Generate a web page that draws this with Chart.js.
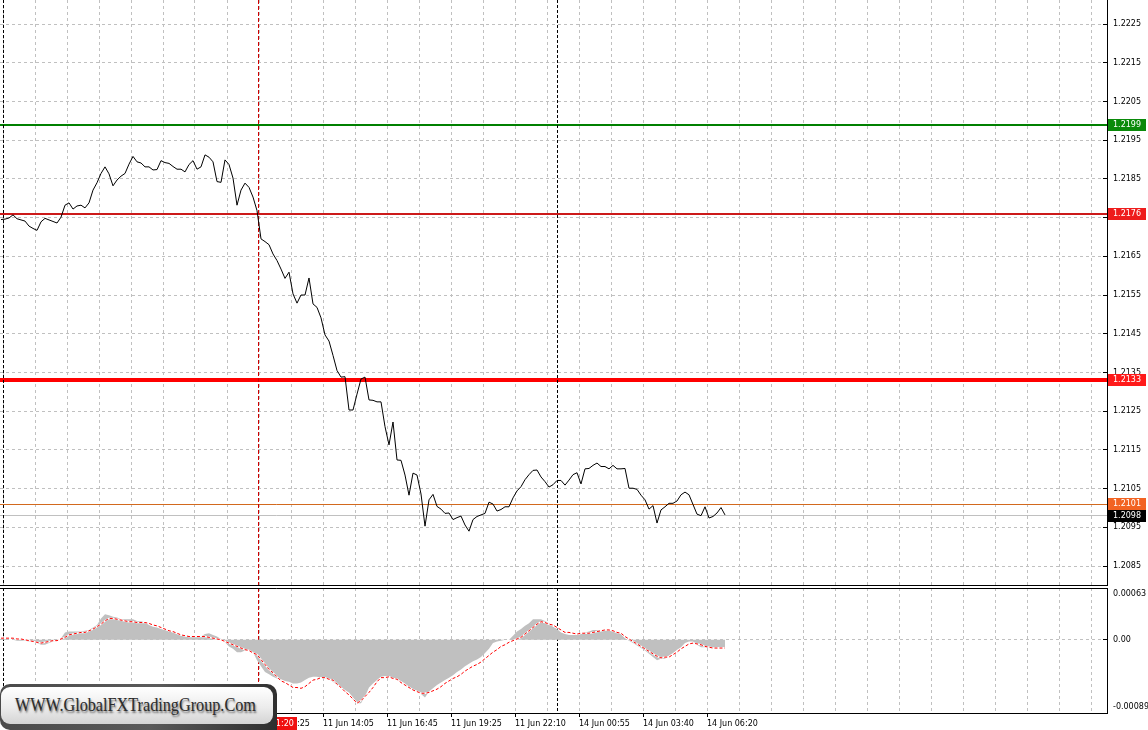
<!DOCTYPE html>
<html>
<head>
<meta charset="utf-8">
<script src="https://cdn.jsdelivr.net/npm/chart.js@4.4.0/dist/chart.umd.min.js"></script>
<style>
  html, body { margin: 0; padding: 0; background: #fff; }
  body { width: 1148px; height: 730px; position: relative; overflow: hidden; }
  canvas { position: absolute; left: 0; }
  #priceChart { top: 0; }
  #macdChart { top: 587px; }
  #wmBack {
    position: absolute; left: 0; top: 684px; width: 277px; height: 46px;
    border-radius: 10px 10px 0 10px;
    background: linear-gradient(100deg, #4a4a4a 0%, #5a5a5a 55%, #2e2e2e 100%);
  }
  #wm {
    position: absolute; left: 1px; top: 687px; width: 272px; height: 37px;
    box-sizing: border-box; padding-left: 14px;
    border-radius: 9px;
    background: linear-gradient(#ffffff, #ececec 55%, #d4d4d4);
    line-height: 37px; white-space: nowrap; overflow: hidden;
  }
  #wm span {
    display: inline-block; transform: scaleX(0.9); transform-origin: 0 50%;
    font: 18px "Liberation Serif", serif;
    color: #2b2b2b; text-shadow: 1px 2px 2px rgba(0, 0, 0, 0.55);
  }
</style>
</head>
<body>
<canvas id="priceChart" width="1148" height="587"></canvas>
<canvas id="macdChart" width="1148" height="143"></canvas>
<div id="wmBack"></div>
<div id="wm"><span>WWW.GlobalFXTradingGroup.Com</span></div>
<script>
// EURUSD M5, close price read every second bar (10 min per value)
const closePrice = [
    1.21745, 1.21746, 1.21749, 1.21757, 1.21747, 1.21744, 1.21741, 1.21728, 1.21722, 1.21717,
    1.21739, 1.21748, 1.21744, 1.21740, 1.21736, 1.21751, 1.21782, 1.21788, 1.21772, 1.21780,
    1.21782, 1.21775, 1.21788, 1.21821, 1.21840, 1.21864, 1.21881, 1.21863, 1.21832, 1.21847,
    1.21857, 1.21864, 1.21888, 1.21908, 1.21894, 1.21891, 1.21881, 1.21881, 1.21873, 1.21874,
    1.21897, 1.21892, 1.21890, 1.21882, 1.21875, 1.21875, 1.21868, 1.21887, 1.21897, 1.21875,
    1.21881, 1.21912, 1.21906, 1.21894, 1.21843, 1.21841, 1.21899, 1.21887, 1.21852, 1.21782,
    1.21821, 1.21839, 1.21828, 1.21803, 1.21768, 1.21695, 1.21688, 1.21680, 1.21656, 1.21639,
    1.21617, 1.21593, 1.21609, 1.21553, 1.21529, 1.21550, 1.21550, 1.21594, 1.21527, 1.21518,
    1.21491, 1.21447, 1.21431, 1.21394, 1.21355, 1.21338, 1.21339, 1.21253, 1.21253, 1.21294,
    1.21333, 1.21338, 1.21279, 1.21278, 1.21274, 1.21274, 1.21210, 1.21163, 1.21222, 1.21124,
    1.21123, 1.21085, 1.21033, 1.21090, 1.21085, 1.21036, 1.20953, 1.21021, 1.21035, 1.21004,
    1.20997, 1.20986, 1.20987, 1.20970, 1.20975, 1.20979, 1.20956, 1.20940, 1.20970, 1.20978,
    1.20982, 1.20986, 1.21015, 1.21010, 1.20992, 1.20996, 1.21003, 1.21003, 1.21026, 1.21044,
    1.21055, 1.21073, 1.21086, 1.21097, 1.21098, 1.21080, 1.21068, 1.21054, 1.21060, 1.21071,
    1.21071, 1.21059, 1.21072, 1.21086, 1.21091, 1.21062, 1.21101, 1.21102, 1.21110, 1.21116,
    1.21107, 1.21107, 1.21101, 1.21110, 1.21101, 1.21101, 1.21102, 1.21051, 1.21051, 1.21048,
    1.21033, 1.21021, 1.20997, 1.21006, 1.20961, 1.20995, 1.21003, 1.21012, 1.21012, 1.21018,
    1.21034, 1.21041, 1.21034, 1.21009, 1.20984, 1.20980, 1.21003, 1.20974, 1.20978, 1.20987,
    1.21001, 1.20982
];

// MACD histogram and signal, same slots as closePrice
const macdHist = [
    0.00001, 0.00001, 0, 0, -0.00001, -0.00001, -0.00001, -0.00002, -0.00002, -0.00004,
    -0.00006, -0.00006, -0.00004, -0.00002, -0.00001, 0.00002, 0.00009, 0.00010, 0.00010, 0.00010,
    0.00010, 0.00011, 0.00012, 0.00015, 0.00018, 0.00026, 0.00031, 0.00030, 0.00028, 0.00027,
    0.00025, 0.00025, 0.00025, 0.00025, 0.00023, 0.00023, 0.00021, 0.00018, 0.00016, 0.00015,
    0.00013, 0.00012, 0.00010, 0.00009, 0.00007, 0.00005, 0.00004, 0.00004, 0.00004, 0.00004,
    0.00004, 0.00007, 0.00008, 0.00006, 0.00004, 0.00001, -0.00003, -0.00008, -0.00011, -0.00015,
    -0.00015, -0.00013, -0.00013, -0.00015, -0.00025, -0.00032, -0.00039, -0.00042, -0.00045, -0.00047,
    -0.00048, -0.00050, -0.00051, -0.00053, -0.00053, -0.00052, -0.00049, -0.00046, -0.00045, -0.00045,
    -0.00046, -0.00047, -0.00048, -0.00051, -0.00055, -0.00058, -0.00061, -0.00064, -0.00070, -0.00077,
    -0.00077, -0.00069, -0.00058, -0.00053, -0.00049, -0.00045, -0.00044, -0.00045, -0.00047, -0.00048,
    -0.00050, -0.00053, -0.00057, -0.00060, -0.00062, -0.00066, -0.00070, -0.00063, -0.00059, -0.00055,
    -0.00052, -0.00049, -0.00046, -0.00043, -0.00039, -0.00036, -0.00032, -0.00029, -0.00026, -0.00024,
    -0.00021, -0.00016, -0.00011, -0.00004, -0.00002, -0.00001, 0, 0, 0.00005, 0.00010,
    0.00013, 0.00017, 0.00020, 0.00025, 0.00025, 0.00025, 0.00023, 0.00020, 0.00016, 0.00013,
    0.00009, 0.00007, 0.00006, 0.00006, 0.00006, 0.00007, 0.00009, 0.00010, 0.00012, 0.00012,
    0.00012, 0.00012, 0.00012, 0.00010, 0.00009, 0.00007, 0.00002, -0.00001, -0.00004, -0.00007,
    -0.00010, -0.00013, -0.00017, -0.00021, -0.00025, -0.00023, -0.00023, -0.00019, -0.00016, -0.00012,
    -0.00009, -0.00004, -0.00002, -0.00002, -0.00006, -0.00009, -0.00009, -0.00010, -0.00010, -0.00009,
    -0.00009, -0.00009
];

const macdSignal = [
    0.00002, 0.00002, 0.00002, 0.00002, 0.00001, 0.00001, 0, -0.00001, -0.00002, -0.00003,
    -0.00004, -0.00003, -0.00002, -0.00001, -0.00001, 0.00001, 0.00003, 0.00006, 0.00007, 0.00008,
    0.00009, 0.00009, 0.00011, 0.00013, 0.00016, 0.00019, 0.00023, 0.00026, 0.00026, 0.00025,
    0.00024, 0.00023, 0.00022, 0.00022, 0.00021, 0.00021, 0.00021, 0.00020, 0.00018, 0.00017,
    0.00015, 0.00013, 0.00011, 0.00010, 0.00008, 0.00006, 0.00005, 0.00004, 0.00004, 0.00004,
    0.00004, 0.00004, 0.00003, 0.00002, 0.00001, 0, -0.00002, -0.00004, -0.00006, -0.00008,
    -0.00010, -0.00012, -0.00013, -0.00016, -0.00018, -0.00024, -0.00030, -0.00036, -0.00040, -0.00045,
    -0.00050, -0.00052, -0.00055, -0.00058, -0.00058, -0.00059, -0.00057, -0.00053, -0.00049, -0.00048,
    -0.00046, -0.00046, -0.00048, -0.00049, -0.00054, -0.00058, -0.00063, -0.00067, -0.00072, -0.00077,
    -0.00074, -0.00069, -0.00064, -0.00058, -0.00051, -0.00046, -0.00046, -0.00045, -0.00047, -0.00048,
    -0.00052, -0.00055, -0.00058, -0.00061, -0.00063, -0.00065, -0.00065, -0.00064, -0.00062, -0.00060,
    -0.00057, -0.00053, -0.00050, -0.00047, -0.00045, -0.00042, -0.00038, -0.00035, -0.00032, -0.00030,
    -0.00027, -0.00023, -0.00019, -0.00015, -0.00012, -0.00008, -0.00006, -0.00003, -0.00001, 0.00001,
    0.00003, 0.00007, 0.00011, 0.00015, 0.00019, 0.00022, 0.00021, 0.00019, 0.00018, 0.00015,
    0.00012, 0.00009, 0.00009, 0.00008, 0.00007, 0.00008, 0.00008, 0.00008, 0.00009, 0.00010,
    0.00011, 0.00012, 0.00012, 0.00011, 0.00009, 0.00008, 0.00004, 0.00001, -0.00002, -0.00005,
    -0.00008, -0.00011, -0.00014, -0.00017, -0.00020, -0.00022, -0.00021, -0.00021, -0.00018, -0.00015,
    -0.00011, -0.00008, -0.00005, -0.00004, -0.00005, -0.00006, -0.00008, -0.00009, -0.00010, -0.00010,
    -0.00010, -0.00010
];

const priceTicks = [1.2085, 1.2095, 1.2105, 1.2115, 1.2125, 1.2135, 1.2145, 1.2155,
                    1.2165, 1.2175, 1.2185, 1.2195, 1.2205, 1.2215, 1.2225];
const macdTicks = [-0.00089, 0, 0.00063];
const timeLabels = ['11 Jun 00:45', '11 Jun 03:25', '11 Jun 06:05', '11 Jun 08:45',
                    '11 Jun 11:25', '11 Jun 14:05', '11 Jun 16:45', '11 Jun 19:25',
                    '11 Jun 22:10', '14 Jun 00:55', '14 Jun 03:40', '14 Jun 06:20'];

// horizontal levels and current bid
const levelPrices = [1.2199, 1.2176, 1.2133, 1.2101];
const bidPrice = 1.2098;

// day separators and the 11:20 marker, in slot units
const separatorSlots = [0.5, 139];
const markerSlot = 64.25;
const markerLabel = '11 Jun 11:20';

// ---- layout / style ----
const X_MIN = -0.25, X_MAX = 276.5;
const PRICE_MIN = 1.20801, PRICE_MAX = 1.22312;
const MACD_MIN = macdTicks[0], MACD_MAX = macdTicks[2];
const AXIS_W = 41;
const GRID = '#c0c0c0';
const GRID_DASH = [3, 3];
const FONT = '8px "DejaVu Sans"';

const levelStyle = [
    { line: '#008000', box: '#0a8a0a', width: 2 },
    { line: '#cc1a1a', box: '#ee1c1c', width: 2 },
    { line: '#ff0000', box: '#ff1a1a', width: 4 },
    { line: '#d2691e', box: '#f26322', width: 1 }
];

Chart.defaults.font.family = '"DejaVu Sans"';
Chart.defaults.font.size = 8;
Chart.defaults.color = '#000';

let gridSlots = [];
for (let v = 0.5; v < X_MAX; v += 8) gridSlots.push(v);

const isLabelSlot = i => i % 2 === 0 && i / 2 < timeLabels.length;
const toPoints = arr => arr.map((v, i) => ({ x: i, y: v }));
const macdText = v => (v === 0 ? '0.00' : v.toFixed(5));

function align(v, w) {
    return Math.round(v - w / 2) + w / 2;
}

function hLine(ctx, area, y, color, width, dash) {
    ctx.save();
    ctx.strokeStyle = color;
    ctx.lineWidth = width;
    ctx.setLineDash(dash || []);
    ctx.beginPath();
    ctx.moveTo(area.left, y);
    ctx.lineTo(area.right, y);
    ctx.stroke();
    ctx.restore();
}

function vLine(ctx, area, x, color, dash) {
    ctx.save();
    ctx.strokeStyle = color;
    ctx.lineWidth = 1;
    ctx.setLineDash(dash || []);
    ctx.beginPath();
    ctx.moveTo(x, area.top);
    ctx.lineTo(x, area.bottom);
    ctx.stroke();
    ctx.restore();
}

function markers(chart) {
    const { ctx, chartArea, scales: { x } } = chart;
    separatorSlots.forEach(s => vLine(ctx, chartArea, align(x.getPixelForValue(s), 1), '#000', [3, 2]));
    vLine(ctx, chartArea, align(x.getPixelForValue(markerSlot), 1), '#d00000', [4, 2]);
}

function axisMarks(ctx, area, scale, values) {
    ctx.save();
    ctx.strokeStyle = '#000';
    ctx.lineWidth = 1;
    values.forEach(v => {
        const y = align(scale.getPixelForValue(v), 1);
        ctx.beginPath();
        ctx.moveTo(area.right - 4, y);
        ctx.lineTo(area.right, y);
        ctx.stroke();
    });
    ctx.restore();
}

function priceBox(ctx, area, y, text, color) {
    ctx.save();
    ctx.fillStyle = color;
    ctx.fillRect(area.right + 1, Math.round(y) - 6, 38, 12);
    ctx.fillStyle = '#fff';
    ctx.font = FONT;
    ctx.textBaseline = 'middle';
    ctx.textAlign = 'left';
    ctx.fillText(text, area.right + 6, Math.round(y));
    ctx.restore();
}

const fixAxis = (s, w, h) => {
    if (w !== null) s.width = w;
    if (h !== null) s.height = h;
    s.paddingLeft = 0; s.paddingRight = 0; s.paddingTop = 0; s.paddingBottom = 0;
};

const pricePlugin = {
    id: 'pricePlugin',
    beforeDatasetsDraw(chart) {
        const { ctx, chartArea, scales: { y } } = chart;
        hLine(ctx, chartArea, align(y.getPixelForValue(bidPrice), 1), GRID, 1);
        levelPrices.forEach((p, i) => {
            const st = levelStyle[i];
            hLine(ctx, chartArea, align(y.getPixelForValue(p), st.width), st.line, st.width);
        });
        markers(chart);
    },
    afterDraw(chart) {
        const { ctx, chartArea, scales: { y } } = chart;
        axisMarks(ctx, chartArea, y, priceTicks);
        levelPrices.forEach((p, i) => priceBox(ctx, chartArea, y.getPixelForValue(p), p.toFixed(4), levelStyle[i].box));
        priceBox(ctx, chartArea, y.getPixelForValue(bidPrice), bidPrice.toFixed(4), '#000');
    }
};

const macdPlugin = {
    id: 'macdPlugin',
    beforeDatasetsDraw(chart) {
        markers(chart);
    },
    afterDraw(chart) {
        const { ctx, chartArea, scales: { x, y } } = chart;
        // top border of the indicator window
        ctx.save();
        ctx.strokeStyle = '#000';
        ctx.lineWidth = 1;
        ctx.beginPath();
        ctx.moveTo(0, chartArea.top + 0.5);
        ctx.lineTo(chartArea.right, chartArea.top + 0.5);
        ctx.stroke();
        ctx.restore();
        axisMarks(ctx, chartArea, y, [0]);

        // window max / min printed inside the scale strip
        ctx.save();
        ctx.font = FONT;
        ctx.fillStyle = '#000';
        ctx.textAlign = 'left';
        ctx.textBaseline = 'top';
        ctx.fillText(macdText(macdTicks[2]), chartArea.right + 6, y.getPixelForValue(macdTicks[2]) + 2);
        ctx.textBaseline = 'bottom';
        ctx.fillText(macdText(macdTicks[0]), chartArea.right + 6, y.getPixelForValue(macdTicks[0]) - 2);
        ctx.restore();

        // label of the vertical marker on the time axis
        ctx.save();
        ctx.font = FONT;
        const w = Math.ceil(ctx.measureText(markerLabel).width) + 6;
        const right = Math.round(x.getPixelForValue(markerSlot)) + 39;
        ctx.fillStyle = '#f01010';
        ctx.fillRect(right - w, chartArea.bottom + 4, w, 13);
        ctx.fillStyle = '#fff';
        ctx.textBaseline = 'middle';
        ctx.fillText(markerLabel, right - w + 3, chartArea.bottom + 10.5);
        ctx.restore();
    }
};

const xGrid = {
    type: 'linear',
    min: X_MIN,
    max: X_MAX,
    offset: false,
    afterBuildTicks: s => { s.ticks = gridSlots.map(v => ({ value: v })); }
};

new Chart(document.getElementById('priceChart'), {
    type: 'line',
    data: {
        datasets: [{
            data: toPoints(closePrice),
            borderColor: '#000',
            borderWidth: 1,
            pointRadius: 0,
            tension: 0
        }]
    },
    options: {
        responsive: false,
        animation: false,
        events: [],
        devicePixelRatio: 1,
        layout: { autoPadding: false, padding: { left: 0, top: 0, right: 0, bottom: 2 } },
        plugins: { legend: { display: false }, tooltip: { enabled: false } },
        scales: {
            x: Object.assign({}, xGrid, {
                ticks: { display: false },
                grid: { color: GRID, drawTicks: false, offset: false },
                border: { display: true, color: '#000', dash: GRID_DASH },
                afterFit: s => fixAxis(s, null, 0)
            }),
            y: {
                position: 'right',
                min: PRICE_MIN,
                max: PRICE_MAX,
                afterBuildTicks: s => { s.ticks = priceTicks.map(v => ({ value: v })); },
                ticks: { padding: 6, callback: v => v.toFixed(4) },
                grid: { color: GRID, drawTicks: false },
                border: { display: true, color: '#000', dash: GRID_DASH },
                afterFit: s => fixAxis(s, AXIS_W, null)
            }
        }
    },
    plugins: [pricePlugin]
});

new Chart(document.getElementById('macdChart'), {
    type: 'line',
    data: {
        datasets: [
            {
                data: toPoints(macdSignal),
                borderColor: '#ff0000',
                borderWidth: 1,
                borderDash: [3, 2],
                pointRadius: 0,
                order: 1
            },
            {
                data: toPoints(macdSignal),
                borderColor: '#ffffff',
                borderWidth: 1.5,
                pointRadius: 0,
                order: 2
            },
            {
                // histogram drawn as a filled area down to the zero line
                data: toPoints(macdHist),
                borderWidth: 0,
                borderColor: GRID,
                backgroundColor: GRID,
                fill: 'origin',
                pointRadius: 0,
                order: 3
            }
        ]
    },
    options: {
        responsive: false,
        animation: false,
        events: [],
        devicePixelRatio: 1,
        layout: { autoPadding: false, padding: { left: 0, top: 1, right: 0, bottom: 0 } },
        plugins: { legend: { display: false }, tooltip: { enabled: false }, filler: { propagate: false } },
        scales: {
            x: Object.assign({}, xGrid, {
                ticks: {
                    autoSkip: false, maxRotation: 0, minRotation: 0, align: 'start', padding: 2,
                    callback: (v, i) => (isLabelSlot(i) ? timeLabels[i / 2] : '')
                },
                grid: {
                    color: GRID, offset: false, tickLength: 4, tickBorderDash: [],
                    tickColor: c => (isLabelSlot(c.index) ? '#000' : 'rgba(0,0,0,0)')
                },
                border: { display: true, color: '#000', dash: GRID_DASH },
                afterFit: s => fixAxis(s, null, 17)
            }),
            y: {
                position: 'right',
                min: MACD_MIN,
                max: MACD_MAX,
                afterBuildTicks: s => { s.ticks = [{ value: macdTicks[1] }]; },
                ticks: { padding: 6, callback: v => macdText(v) },
                grid: { color: GRID, drawTicks: false },
                border: { display: true, color: '#000', dash: GRID_DASH },
                afterFit: s => fixAxis(s, AXIS_W, null)
            }
        }
    },
    plugins: [macdPlugin]
});
</script>
</body>
</html>
